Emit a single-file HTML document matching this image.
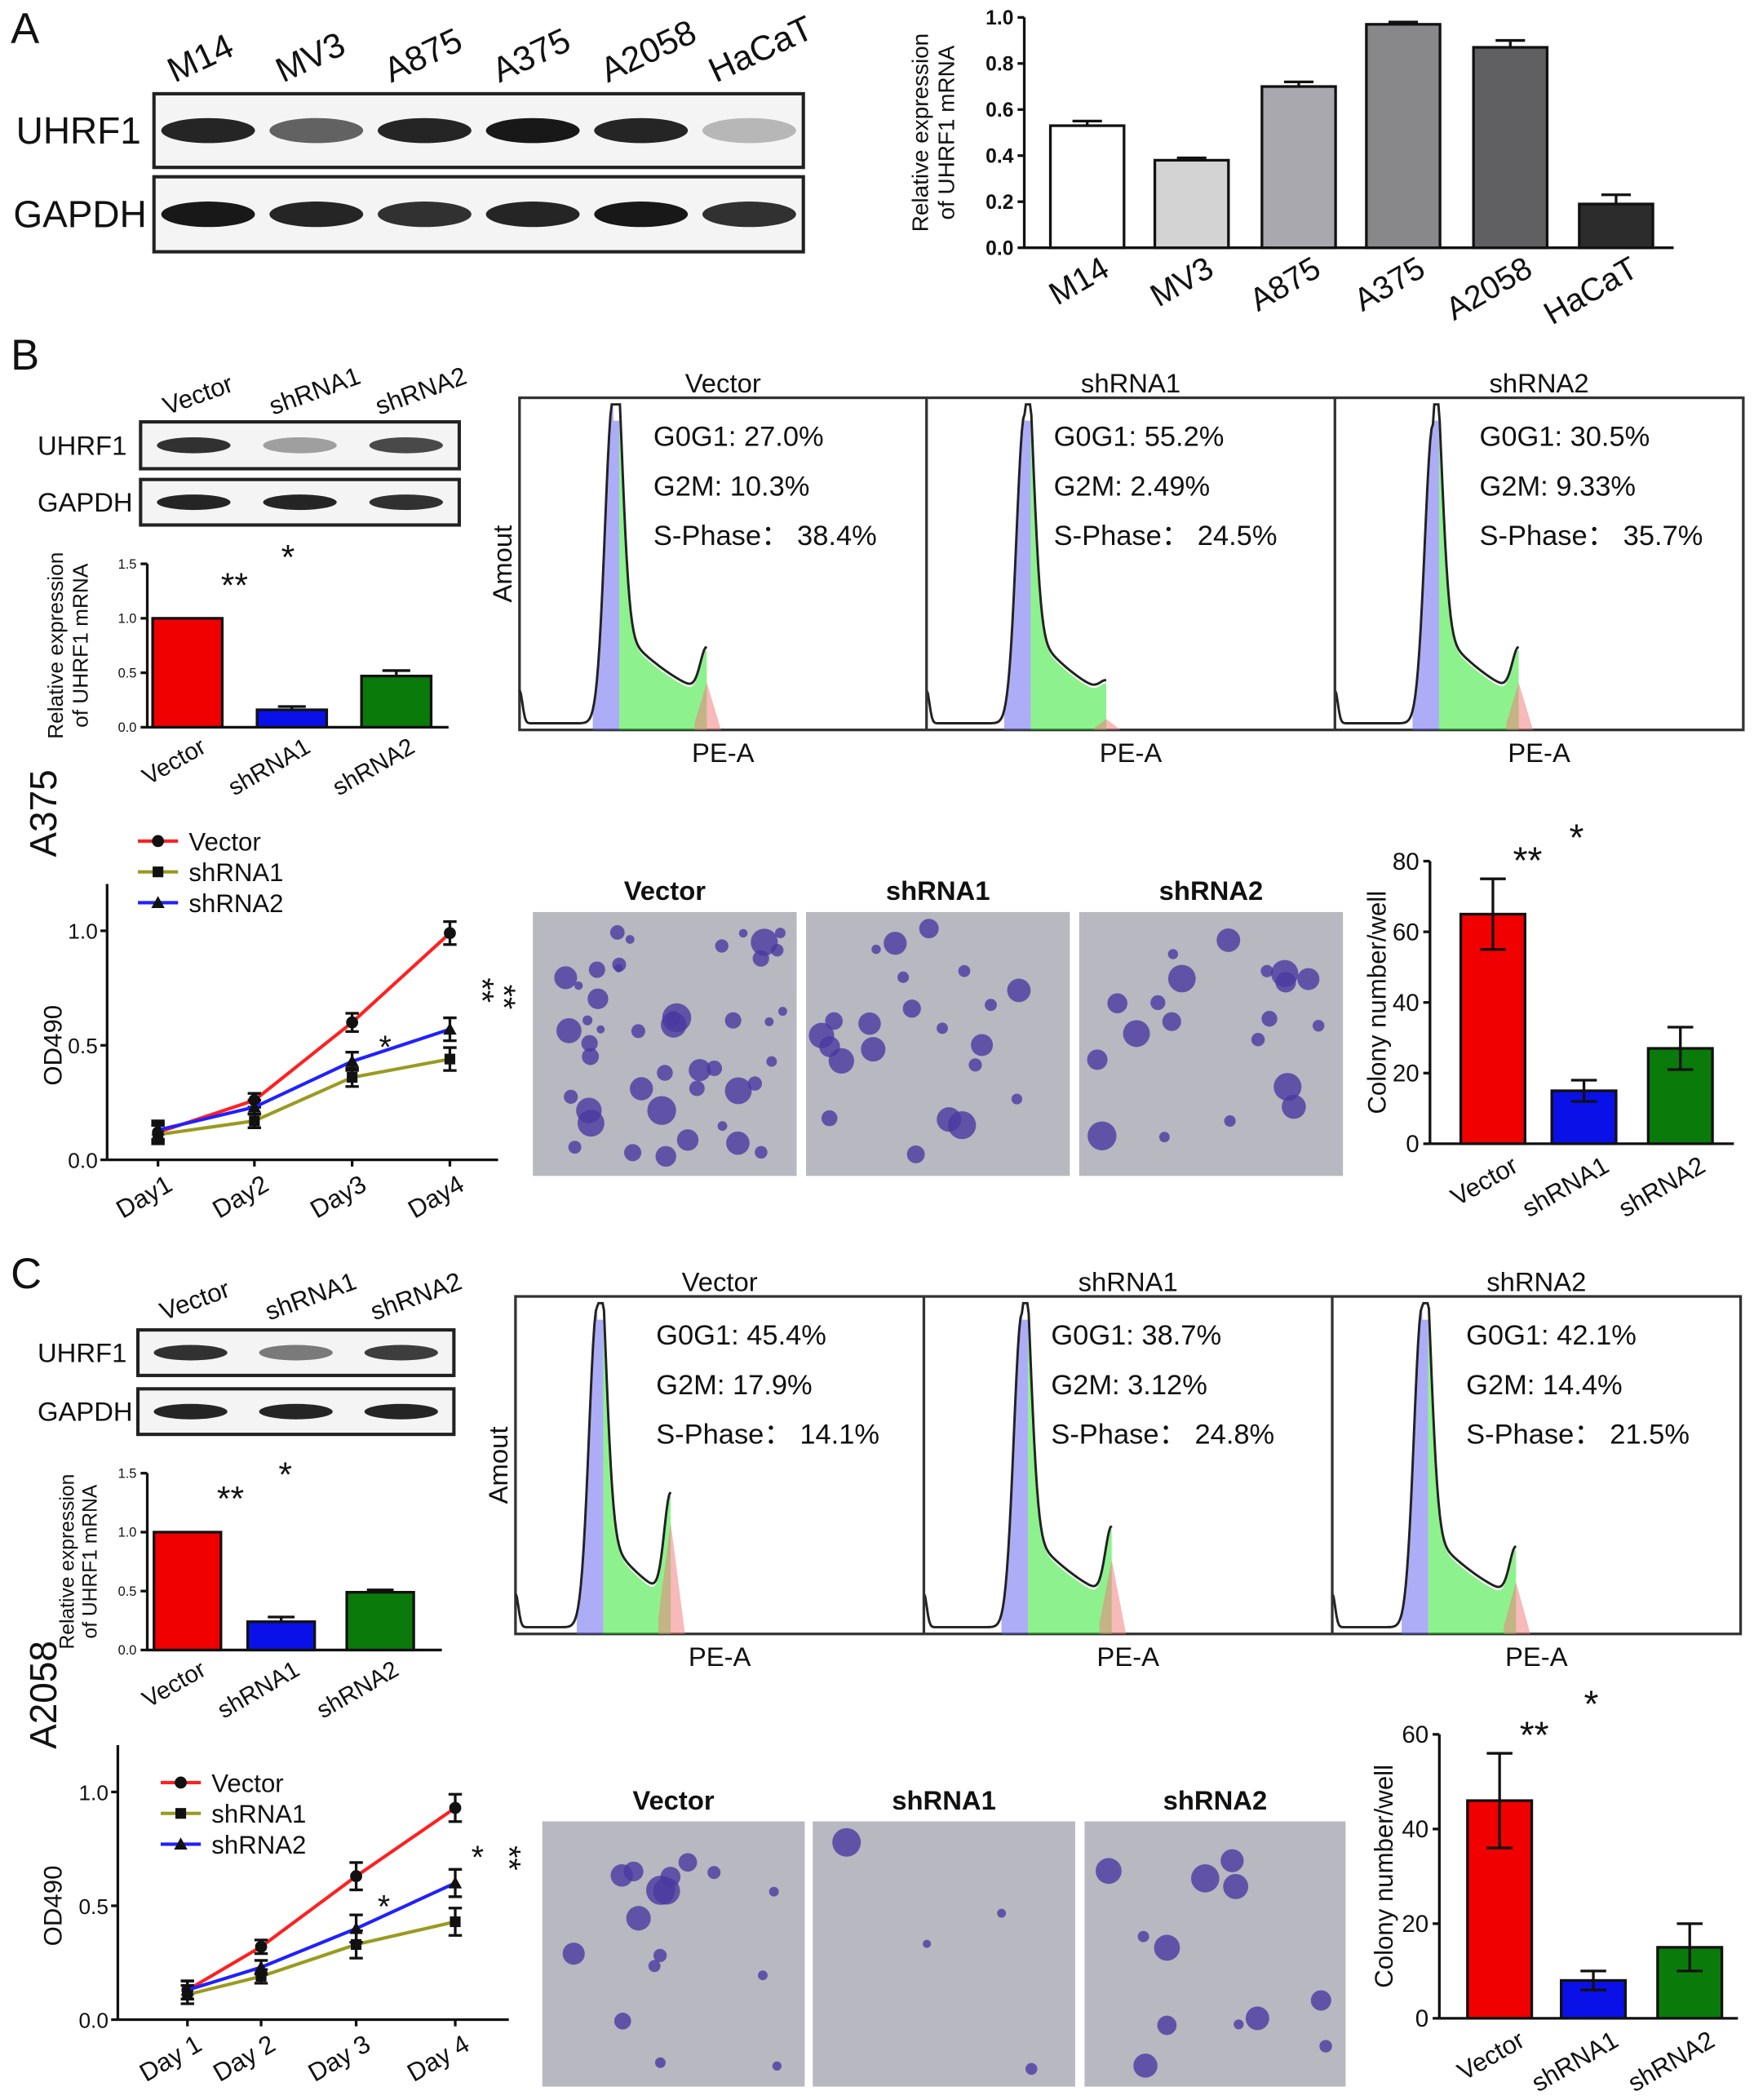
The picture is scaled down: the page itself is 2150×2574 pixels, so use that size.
<!DOCTYPE html>
<html><head><meta charset="utf-8">
<style>
html,body{margin:0;padding:0;background:#fff;}
svg{display:block;font-family:"Liberation Sans",Arial,sans-serif;}
</style></head>
<body>
<svg id="fig" width="2150" height="2574" viewBox="0 0 1310 1568" preserveAspectRatio="none" xmlns="http://www.w3.org/2000/svg"></svg>
<script>
// ---- Data ----
const cellLines = ["M14","MV3","A875","A375","A2058","HaCaT"];
const aValues = [0.53,0.38,0.70,0.97,0.87,0.19];
const aErrors = [0.02,0.01,0.02,0.01,0.03,0.04];
const aTicks = [0.0,0.2,0.4,0.6,0.8,1.0];
const groups = ["Vector","shRNA1","shRNA2"];
const bMrna = [1.0,0.16,0.47];
const bMrnaErr = [0,0.03,0.05];
const cMrna = [1.0,0.24,0.49];
const cMrnaErr = [0,0.04,0.02];
const mrnaTicks = [0.0,0.5,1.0,1.5];
const bDays = ["Day1","Day2","Day3","Day4"];
const cDays = ["Day 1","Day 2","Day 3","Day 4"];
const bVector = [0.12,0.26,0.60,0.99];
const bSh1 = [0.11,0.17,0.36,0.44];
const bSh2 = [0.13,0.23,0.43,0.57];
const bLineErr = [0.04,0.03,0.04,0.05];
const cVector = [0.13,0.32,0.63,0.93];
const cSh1 = [0.11,0.19,0.33,0.43];
const cSh2 = [0.13,0.23,0.40,0.60];
const cLineErr = [0.04,0.03,0.06,0.06];
const odTicks = [0.0,0.5,1.0];
const bColony = [65,15,27];
const bColonyErr = [10,3,6];
const bColonyTicks = [0,20,40,60,80];
const cColony = [46,8,15];
const cColonyErr = [10,2,5];
const cColonyTicks = [0,20,40,60];
const bFlowText = [["27.0%","10.3%","38.4%"],["55.2%","2.49%","24.5%"],["30.5%","9.33%","35.7%"]];
const cFlowText = [["45.4%","17.9%","14.1%"],["38.7%","3.12%","24.8%"],["42.1%","14.4%","21.5%"]];

const svg = document.getElementById('fig');
const NS = "http://www.w3.org/2000/svg";
function el(tag, attrs, parent){
  const e = document.createElementNS(NS, tag);
  for (const k in attrs) e.setAttribute(k, attrs[k]);
  (parent||svg).appendChild(e);
  return e;
}
function txt(x,y,s,size,opts,name){
  const t = el('text',Object.assign({x:x,y:y,'font-size':size,fill:'#111'},opts||{}));
  t.textContent = s;
  
  
  return t;
}
const colors3 = ["#f00000","#0a10e8","#0a7a0a"];

// ---- Panel letters ----
txt(8,32,"A",32,{},"panel-a-letter");
txt(8,276,"B",32,{},"panel-b-letter");
txt(8,962,"C",32,{},"panel-c-letter");
txt(42,640,"A375",28,{transform:"rotate(-90 42 640)"},"a375-label");
txt(42,1306,"A2058",28,{transform:"rotate(-90 42 1306)"},"a2058-label");

// ---- Western blot ----
function blot(x,y,w,h,labels,intens,name,lblSize,lblX,bandW){
  const g = el('g',{});
  
  
  el('rect',{x:x,y:y,width:w,height:h,fill:'#f4f4f4',stroke:'#222','stroke-width':2.5},g);
  const n = intens.length;
  for(let i=0;i<n;i++){
    const cx = x + w*(i+0.5)/n;
    const b = el('ellipse',{cx:cx,cy:y+h/2,rx:bandW/2,ry:h*0.17,fill:'#000','fill-opacity':intens[i]},g);
    
    
  }
  txt(lblX,y+h/2+lblSize*0.35,labels,lblSize,{},name+'-label');
}
blot(115,70,485,55,"UHRF1",[0.85,0.6,0.85,0.9,0.85,0.25],"uhrf1-blot-a",28,12,70);
blot(115,132,485,56,"GAPDH",[0.9,0.85,0.8,0.85,0.9,0.8],"gapdh-blot-a",28,10,70);
cellLines.forEach((c,i)=>{const x=115+485*(i+0.5)/6-25;txt(x,62,c,26,{transform:`rotate(-25 ${x} 62)`},"blot-col-"+c);});
blot(105,315,238,35,"UHRF1",[0.8,0.35,0.7],"uhrf1-blot-b",20,28,55);
blot(105,358,238,34,"GAPDH",[0.85,0.85,0.8],"gapdh-blot-b",20,28,55);
groups.forEach((c,i)=>{const x=105+238*(i+0.5)/3-20;txt(x,310,c,19,{transform:`rotate(-20 ${x} 310)`},"blot-b-col-"+c);});
blot(103,993,236,34,"UHRF1",[0.8,0.5,0.75],"uhrf1-blot-c",20,28,55);
blot(103,1037,236,34,"GAPDH",[0.85,0.85,0.85],"gapdh-blot-c",20,28,55);
groups.forEach((c,i)=>{const x=103+236*(i+0.5)/3-20;txt(x,986,c,19,{transform:`rotate(-20 ${x} 986)`},"blot-c-col-"+c);});

// ---- Bar chart generic ----
function barChart(o){
  const g = el('g',{});
  
  
  const Y = v => o.y0 - (v - 0)/(o.max) * (o.y0 - o.yTop);
  el('line',{x1:o.ax,y1:Y(o.max),x2:o.ax,y2:o.y0,stroke:'#111','stroke-width':2},g);
  el('line',{x1:o.ax,y1:o.y0,x2:o.xEnd,y2:o.y0,stroke:'#111','stroke-width':2},g);
  o.ticks.forEach(t=>{
    el('line',{x1:o.ax-5,y1:Y(t),x2:o.ax,y2:Y(t),stroke:'#111','stroke-width':2},g);
    const tl = txt(o.ax-8,Y(t)+o.tickSize*0.35,o.fmt(t),o.tickSize,{'text-anchor':'end','font-weight':o.bold?'bold':'normal'},'y-tick-label');
    g.appendChild(tl);
  });
  o.values.forEach((v,i)=>{
    const cx = o.cx[i];
    const r = el('rect',{x:cx-o.bw/2,y:Y(v),width:o.bw,height:o.y0-Y(v),fill:o.fill[i],stroke:'#111','stroke-width':2},g);
    
    
    const e = o.err[i];
    if(e>0){
      el('line',{x1:cx,y1:Y(v+e),x2:cx,y2:Y(v),stroke:'#111','stroke-width':2},g);
      el('line',{x1:cx-o.bw*0.2,y1:Y(v+e),x2:cx+o.bw*0.2,y2:Y(v+e),stroke:'#111','stroke-width':2},g);
      if(o.bothErr){el('line',{x1:cx,y1:Y(v),x2:cx,y2:Y(v-e),stroke:'#111','stroke-width':2},g);
      el('line',{x1:cx-o.bw*0.2,y1:Y(v-e),x2:cx+o.bw*0.2,y2:Y(v-e),stroke:'#111','stroke-width':2},g);}
    }
    const lx = cx+o.lblDx, ly = o.y0+o.lblDy;
    g.appendChild(txt(lx,ly,o.cats[i],o.catSize,{'text-anchor':'end',transform:`rotate(-30 ${lx} ${ly})`},'x-tick-label'));
  });
  const tx=o.titleX, ty=(o.yTop+o.y0)/2;
  o.title.forEach((line,k)=>g.appendChild(txt(tx+k*o.titleSize*1.15,ty,line,o.titleSize,{'text-anchor':'middle',transform:`rotate(-90 ${tx+k*o.titleSize*1.15} ${ty})`},'y-axis-title')));
  return Y;
}
barChart({name:'uhrf1-mrna-cell-lines-chart',ax:765,y0:185,yTop:13,max:1.0,xEnd:1250,ticks:aTicks,fmt:t=>t.toFixed(1),tickSize:15,bold:true,
  values:aValues,err:aErrors,cats:cellLines,cx:[812,890,970,1048,1128,1207],bw:55,fill:['#fff','#d3d3d3','#a8a8ae','#88888a','#606062','#2c2c2c'],
  lblDx:18,lblDy:20,catSize:24,title:["Relative expression","of UHRF1 mRNA"],titleX:693,titleSize:17});
barChart({name:'uhrf1-mrna-b-chart',ax:110,y0:543,yTop:421,max:1.5,xEnd:335,ticks:mrnaTicks,fmt:t=>t.toFixed(1),tickSize:10,
  values:bMrna,err:bMrnaErr,cats:groups,cx:[140,218,296],bw:52,fill:colors3,lblDx:15,lblDy:18,catSize:18,title:["Relative expression","of UHRF1 mRNA"],titleX:47,titleSize:16});
barChart({name:'uhrf1-mrna-c-chart',ax:110,y0:1232,yTop:1100,max:1.5,xEnd:330,ticks:mrnaTicks,fmt:t=>t.toFixed(1),tickSize:10,
  values:cMrna,err:cMrnaErr,cats:groups,cx:[140,210,284],bw:50,fill:colors3,lblDx:15,lblDy:18,catSize:18,title:["Relative expression","of UHRF1 mRNA"],titleX:55,titleSize:15});
barChart({name:'colony-b-chart',ax:1068,y0:854,yTop:643,max:80,xEnd:1295,ticks:bColonyTicks,fmt:t=>String(t),tickSize:18,
  values:bColony,err:bColonyErr,cats:groups,cx:[1115,1183,1255],bw:48,fill:colors3,bothErr:true,lblDx:20,lblDy:20,catSize:19,title:["Colony number/well"],titleX:1035,titleSize:19});
barChart({name:'colony-c-chart',ax:1075,y0:1507,yTop:1295,max:60,xEnd:1298,ticks:cColonyTicks,fmt:t=>String(t),tickSize:18,
  values:cColony,err:cColonyErr,cats:groups,cx:[1120,1190,1262],bw:48,fill:colors3,bothErr:true,lblDx:20,lblDy:20,catSize:19,title:["Colony number/well"],titleX:1040,titleSize:19});
// significance stars
txt(165,446,"**",26,{},"sig-b-mrna-1");txt(210,425,"*",26,{},"sig-b-mrna-2");
txt(162,1128,"**",26,{},"sig-c-mrna-1");txt(208,1110,"*",26,{},"sig-c-mrna-2");
txt(1130,652,"**",28,{},"sig-b-colony-1");txt(1172,635,"*",28,{},"sig-b-colony-2");
txt(1135,1305,"**",28,{},"sig-c-colony-1");txt(1183,1282,"*",28,{},"sig-c-colony-2");

// ---- Flow histograms ----
const flowParamsB = [[0.23,0.98,0.46,0.13],[0.24,0.93,0.44,0.03],[0.24,0.9,0.45,0.13]];
const flowParamsC = [[0.20,0.95,0.38,0.30],[0.24,0.93,0.46,0.20],[0.22,0.95,0.45,0.14]];
function flow(x0,y0,w,h,p,name,title,vals,tx){
  const g = el('g',{});
  
  
  const [p1,a1,p2,a2] = p;
  const f = t => {
    let v = 0.02 + 0.1*Math.exp(-Math.pow(t/0.01,2)) + 0.12*Math.exp(-Math.pow((1-t)/0.01,2));
    v += a1*Math.exp(-Math.pow((t-p1)/0.028,2));
    if(t>p1 && t<p2+0.02){ const s=(t-p1)/(p2-p1); v += 0.2*Math.pow(1-s,1.5)+0.1; }
    v += a2*Math.exp(-Math.pow((t-p2)/0.022,2));
    return Math.min(v,0.98);
  };
  const X = t => x0+t*w, Y = v => y0+h-v*h;
  const N=300;
  const pts=[]; for(let i=0;i<=N;i++){const t=i/N;pts.push([X(t),Y(f(t))]);}
  const area=(t0,t1,fn,col)=>{let s=`M${X(t0)},${y0+h}`;for(let i=0;i<=60;i++){const t=t0+(t1-t0)*i/60;s+=` L${X(t)},${Y(fn(t))}`;}s+=` L${X(t1)},${y0+h}Z`;el('path',{d:s,fill:col,'fill-opacity':0.55},g);};
  area(p1-0.05,p1+0.015,t=>t<=p1?f(t):f(t)*0.95,'#6a6af0');
  area(p1+0.015,p2,t=>f(t)-0.01,'#30e830');
  area(p2-0.03,p2+0.04,t=>Math.max(0,a2*1.1*(1-Math.abs(t-p2)/0.035)),'#f08080');
  el('path',{d:"M"+pts.map(q=>q.join(',')).join(' L'),fill:'none',stroke:'#222','stroke-width':1.8},g);
  g.appendChild(txt(x0+w/2,y0-4,title,20,{'text-anchor':'middle'},'flow-title'));
  g.appendChild(txt(x0+w/2,y0+h+24,"PE-A",20,{'text-anchor':'middle'},'flow-x-label'));
  g.appendChild(txt(x0+tx,y0+36,"G0G1: "+vals[0],21,{},'g0g1-value'));
  g.appendChild(txt(x0+tx,y0+73,"G2M: "+vals[1],21,{},'g2m-value'));
  g.appendChild(txt(x0+tx,y0+110,"S-Phase：  "+vals[2],21,{},'s-phase-value'));
}
const bx=[388,692,997,1302], cxs=[385,690,995,1300];
el('rect',{x:388,y:297,width:914,height:248,fill:'none',stroke:'#333','stroke-width':2});
el('rect',{x:385,y:968,width:915,height:252,fill:'none',stroke:'#333','stroke-width':2});
for(let i=0;i<3;i++){
  flow(bx[i],297,bx[i+1]-bx[i],248,flowParamsB[i],'flow-b-'+groups[i],groups[i],bFlowText[i],[100,95,108][i]);
  flow(cxs[i],968,cxs[i+1]-cxs[i],252,flowParamsC[i],'flow-c-'+groups[i],groups[i],cFlowText[i],[105,95,100][i]);
}
[692,997].forEach(x=>el('line',{x1:x,y1:297,x2:x,y2:545,stroke:'#333','stroke-width':2}));
[690,995].forEach(x=>el('line',{x1:x,y1:968,x2:x,y2:1220,stroke:'#333','stroke-width':2}));
txt(382,421,"Amout",20,{'text-anchor':'middle',transform:'rotate(-90 382 421)'},'flow-b-y-label');
txt(379,1094,"Amout",20,{'text-anchor':'middle',transform:'rotate(-90 379 1094)'},'flow-c-y-label');

// ---- Growth line charts ----
function marker(g,mk,x,y){
  if(mk==='circle') return el('circle',{cx:x,cy:y,r:4.5,fill:'#111'},g);
  if(mk==='square') return el('rect',{x:x-4,y:y-4,width:8,height:8,fill:'#111'},g);
  return el('polygon',{points:`${x},${y-5} ${x+5},${y+4} ${x-5},${y+4}`,fill:'#111'},g);
}
function lineChart(o){
  const g = el('g',{});
  
  
  const Y = v => o.y0 - v/1.0*(o.y0-o.y1);
  el('line',{x1:o.ax,y1:o.yTop,x2:o.ax,y2:o.y0,stroke:'#111','stroke-width':2},g);
  el('line',{x1:o.ax,y1:o.y0,x2:o.xEnd,y2:o.y0,stroke:'#111','stroke-width':2},g);
  odTicks.forEach(t=>{el('line',{x1:o.ax-5,y1:Y(t),x2:o.ax,y2:Y(t),stroke:'#111','stroke-width':2},g);
    g.appendChild(txt(o.ax-7,Y(t)+6,t.toFixed(1),16,{'text-anchor':'end'},'y-tick-label'));});
  o.days.forEach((d,i)=>{el('line',{x1:o.dx[i],y1:o.y0,x2:o.dx[i],y2:o.y0+5,stroke:'#111','stroke-width':2},g);
    const lx=o.dx[i]+12, ly=o.y0+22; g.appendChild(txt(lx,ly,d,19,{'text-anchor':'end',transform:`rotate(-30 ${lx} ${ly})`},'x-tick-label'));});
  const series=[[o.v,'#ff2020','circle','Vector'],[o.s1,'#9a9a20','square','shRNA1'],[o.s2,'#2020ff','tri','shRNA2']];
  series.forEach(([vals,col,mk,nm],si)=>{
    const pl = el('polyline',{points:vals.map((v,i)=>o.dx[i]+','+Y(v)).join(' '),fill:'none',stroke:col,'stroke-width':2.5},g);
    
    
    vals.forEach((v,i)=>{
      const x=o.dx[i],y=Y(v),e=o.err[i];
      el('line',{x1:x,y1:Y(v+e),x2:x,y2:Y(v-e),stroke:'#111','stroke-width':2},g);
      el('line',{x1:x-5,y1:Y(v+e),x2:x+5,y2:Y(v+e),stroke:'#111','stroke-width':2},g);
      el('line',{x1:x-5,y1:Y(v-e),x2:x+5,y2:Y(v-e),stroke:'#111','stroke-width':2},g);
      const m = marker(g,mk,x,y);
      
      
    });
    const ly=o.legY+si*23;
    el('line',{x1:o.legX,y1:ly,x2:o.legX+30,y2:ly,stroke:col,'stroke-width':2.5},g);
    const lm = marker(g,mk,o.legX+15,ly);
    
    
    g.appendChild(txt(o.legX+38,ly+7,nm,19,{},'legend-entry'));
  });
  g.appendChild(txt(o.titleX,(o.y0+o.y1)/2,"OD490",19,{'text-anchor':'middle',transform:`rotate(-90 ${o.titleX} ${(o.y0+o.y1)/2})`},'y-axis-title'));
}
lineChart({name:'growth-b-chart',ax:80,y0:866,y1:695,yTop:660,xEnd:372,days:bDays,dx:[118,190,263,336],v:bVector,s1:bSh1,s2:bSh2,err:bLineErr,legX:103,legY:628,titleX:46});
lineChart({name:'growth-c-chart',ax:88,y0:1508,y1:1338,yTop:1303,xEnd:380,days:cDays,dx:[140,195,266,340],v:cVector,s1:cSh1,s2:cSh2,err:cLineErr,legX:120,legY:1331,titleX:46});
txt(283,790,"*",24,{},"sig-b-line-1");
txt(0,0,"**",24,{transform:'translate(352,730) rotate(90)'},"sig-b-line-2");
txt(0,0,"**",24,{transform:'translate(368,735) rotate(90)'},"sig-b-line-3");
txt(282,1432,"*",24,{},"sig-c-line-1");
txt(352,1395,"*",24,{},"sig-c-line-2");
txt(0,0,"**",24,{transform:'translate(372,1378) rotate(90)'},"sig-c-line-3");

// ---- Colony images ----
const bBlobs=[45,22,20], cBlobs=[16,4,12];
function colonyImg(x,y,w,h,n,seed,name,title){
  const g = el('g',{});
  
  
  el('rect',{x:x,y:y,width:w,height:h,fill:'#b7b8c0'},g);
  let s=seed; const rnd=()=>{s=(s*9301+49297)%233280;return s/233280;};
  for(let i=0;i<n;i++){
    const r=3+rnd()*8;
    const c=el('circle',{cx:x+10+rnd()*(w-20),cy:y+10+rnd()*(h-20),r:r,fill:'#4a3aa0','fill-opacity':0.8},g);
    
    
  }
  g.appendChild(txt(x+w/2,y-9,title,20,{'text-anchor':'middle','font-weight':'bold'},'colony-title'));
}
const bIx=[398,602,806], cIx=[405,607,810];
for(let i=0;i<3;i++){
  colonyImg(bIx[i],681,197,197,bBlobs[i],17+i*31,'colony-b-'+groups[i],groups[i]);
  colonyImg(cIx[i],1360,cIx[i]===810?195:196,198,cBlobs[i],7+i*13,'colony-c-'+groups[i],groups[i]);
}
</script>
</body></html>
